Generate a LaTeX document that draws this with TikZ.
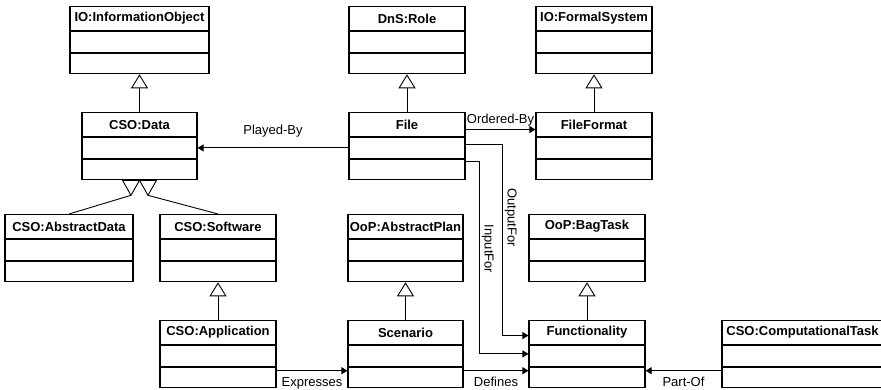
\documentclass[tikz,border=0pt]{standalone}
\usepackage{fontspec}
\setmainfont{Liberation Sans}
\usetikzlibrary{positioning,arrows.meta}

\begin{document}
\begin{tikzpicture}[x=1pt, y=-1pt,
		class head/.style={draw, line width=1.1pt, anchor=north, inner sep=0pt, minimum height=24pt, font=\fontsize{13}{15}\selectfont\bfseries},
		class row/.style={draw, line width=1.1pt, inner sep=0pt, minimum height=20.5pt},
		assoc/.style={line width=0.9pt, -{Triangle[length=6pt,width=7pt]}},
		gen/.style={line width=0.9pt, -{Triangle[length=14pt,width=17pt,fill=white]}},
		edge label/.style={inner sep=2pt, font=\fontsize{13}{15}\selectfont}]
		
		\useasboundingbox (0,0) rectangle (881,389);
		\fill[white] (0,0) rectangle (881,389);
		
		% classes: name / centre x / top y / width / title
		\foreach \nm/\cx/\ty/\w/\ttl in {
			ioinfo/139.5/6/139/IO:InformationObject,
			role/407/6/116/DnS:Role,
			formsys/594/6/116/IO:FormalSystem,
			data/139.5/112/115/CSO:Data,
			file/407/112/116/File,
			fformat/594/112/116/FileFormat,
			absdata/69/214/128/CSO:AbstractData,
			soft/218/214/116/CSO:Software,
			absplan/405.5/214/115/OoP:AbstractPlan,
			bagtask/587/214/116/OoP:BagTask,
			app/218/320/116/CSO:Application,
			scen/405.5/320/115/Scenario,
			func/587/320/116/Functionality,
			comptask/802.5/320/161/CSO:ComputationalTask}
		{
			\node[class head, minimum width=\w pt] (\nm) at (\cx,\ty) {\ttl};
			\node[class row, minimum width=\w pt, below=0pt of \nm] (\nm-a) {};
			\node[class row, minimum width=\w pt, below=0pt of \nm-a] (\nm-b) {};
		}
		
		% generalisation
		\draw[gen] (data.north) -- (ioinfo-b.south);
		\draw[gen] (file.north) -- (role-b.south);
		\draw[gen] (fformat.north) -- (formsys-b.south);
		\draw[gen] (app.north) -- (soft-b.south);
		\draw[gen] (scen.north) -- (absplan-b.south);
		\draw[gen] (func.north) -- (bagtask-b.south);
		
		\coordinate (tip1) at ([xshift=-8.5pt,yshift=-15pt]data-b.south);
		\coordinate (tip2) at ([xshift=8.5pt,yshift=-15pt]data-b.south);
		\draw[line width=0.9pt, fill=white] ([xshift=-17pt]data-b.south) -- (data-b.south) -- (tip1) -- cycle;
		\draw[line width=0.9pt, fill=white] (data-b.south) -- ([xshift=17pt]data-b.south) -- (tip2) -- cycle;
		\draw[line width=0.9pt] (tip1) -- (absdata.north);
		\draw[line width=0.9pt] (tip2) -- (soft.north);
		
		% associations
		\draw[assoc] (file-a.west) -- node[edge label, above=8pt] {Played-By} (data-a.east);
		\draw[assoc] ([yshift=-5pt]file.east) -- node[edge label, above=1pt] {Ordered-By} ([yshift=-5pt]fformat.west);
		\draw[assoc] ([yshift=3pt]file-a.east) -- ++(37,0) |- node[edge label, rotate=-90, anchor=south, pos=0.19] {OutputFor} ([yshift=-3pt]func.west);
		\draw[assoc] ([yshift=-3pt]file-b.north east) -- ++(14,0) |- node[edge label, rotate=-90, anchor=south, pos=0.227] {InputFor} ([yshift=2pt]func-a.west);
		\draw[assoc] ([yshift=-4pt]app-b.north east) -- node[edge label, below=4pt] {Expresses} ([yshift=-4pt]scen-b.north west);
		\draw[assoc] ([yshift=-4pt]scen-b.north east) -- node[edge label, below=4pt] {Defines} ([yshift=-4pt]func-b.north west);
		\draw[assoc] ([yshift=-4pt]comptask-b.north west) -- node[edge label, below=4pt] {Part-Of} ([yshift=-4pt]func-b.north east);
		
\end{tikzpicture}
\end{document}
